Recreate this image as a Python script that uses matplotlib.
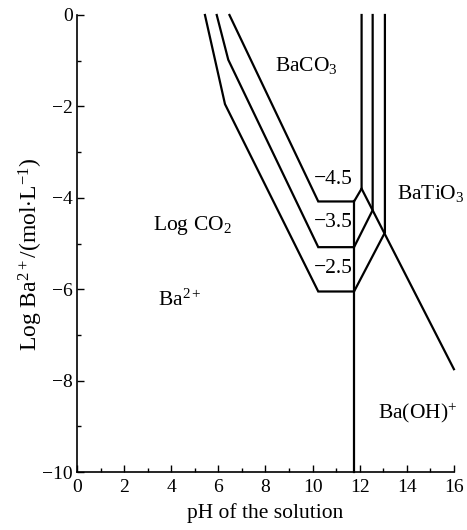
import matplotlib
matplotlib.use("Agg")
import matplotlib.pyplot as plt
from matplotlib.ticker import MultipleLocator

plt.rcParams['font.family'] = ['Liberation Serif', 'DejaVu Serif']
plt.rcParams['mathtext.fontset'] = 'custom'
plt.rcParams['mathtext.rm'] = 'Liberation Serif'
plt.rcParams['mathtext.it'] = 'Liberation Serif'

# boundary lines for log CO2 = -2.5, -3.5, -4.5 (pH, log Ba2+)
ph_25 = [5.43, 6.28, 10.24, 11.76, 13.07, 13.07]
ba_25 = [0.0, -1.95, -6.05, -6.05, -4.76, 0.0]
ph_35 = [5.93, 6.42, 10.24, 11.76, 12.55, 12.55]
ba_35 = [0.0, -0.98, -5.08, -5.08, -4.27, 0.0]
ph_45 = [6.47, 10.24, 11.76, 12.08, 12.08]
ba_45 = [0.0, -4.08, -4.08, -3.80, 0.0]
# Ba2+ / Ba(OH)+ boundary
ph_oh = [11.76, 11.76]
ba_oh = [-10.0, -4.08]
# BaTiO3 boundary
ph_ti = [12.08, 16.0]
ba_ti = [-3.80, -7.75]

co2_labels = ['\u22124.5', '\u22123.5', '\u22122.5']
co2_label_y = [-3.8, -4.75, -5.75]

fig = plt.figure(figsize=(4.67, 5.3), dpi=100)
ax = fig.add_axes([0.165, 0.1094, 0.807, 0.8623])

for x, y in [(ph_25, ba_25), (ph_35, ba_35), (ph_45, ba_45), (ph_oh, ba_oh), (ph_ti, ba_ti)]:
    ax.plot(x, y, color='black', lw=1.6, solid_joinstyle='miter', clip_on=False)

for t, yy in zip(co2_labels, co2_label_y):
    ax.text(11.72, yy, t, ha='right', va='bottom', fontsize=15.5)

ax.text(9.72, -1.1, r'BaCO$_3$', ha='center', va='center', fontsize=15.5)
ax.text(15.0, -3.9, r'BaTiO$_3$', ha='center', va='center', fontsize=15.5)
ax.text(4.88, -4.6, r'Log CO$_2$', ha='center', va='center', fontsize=15.5)
ax.text(4.37, -6.25, r'Ba$^{2+}$', ha='center', va='center', fontsize=15.5)
ax.text(14.45, -8.7, r'Ba(OH)$^{+}$', ha='center', va='center', fontsize=15.5)

ax.set_xlim(0, 16)
ax.set_ylim(-10, 0)
ax.xaxis.set_major_locator(MultipleLocator(2))
ax.xaxis.set_minor_locator(MultipleLocator(1))
ax.yaxis.set_minor_locator(MultipleLocator(1))
ax.set_yticks(range(-10, 1, 2))
ax.set_yticklabels([('\u2212%d' % -v) if v < 0 else '0' for v in range(-10, 1, 2)])
ax.tick_params(which='both', direction='in', labelsize=14, width=1)
ax.tick_params(which='major', length=5)
ax.tick_params(which='minor', length=3)
ax.tick_params(axis='y', pad=3)
ax.tick_params(axis='x', pad=5)
ax.spines['top'].set_visible(False)
ax.spines['right'].set_visible(False)
ax.spines['left'].set_linewidth(1.2)
ax.spines['bottom'].set_linewidth(1.2)

ax.set_xlabel('pH of the solution', fontsize=15.5, labelpad=5)
ax.set_ylabel(r'Log Ba$^{2+}$/(mol$\cdot$L$^{-1}$)', fontsize=17)
ax.yaxis.set_label_coords(-0.085, 0.475)

fig.savefig('out.png', dpi=100)
